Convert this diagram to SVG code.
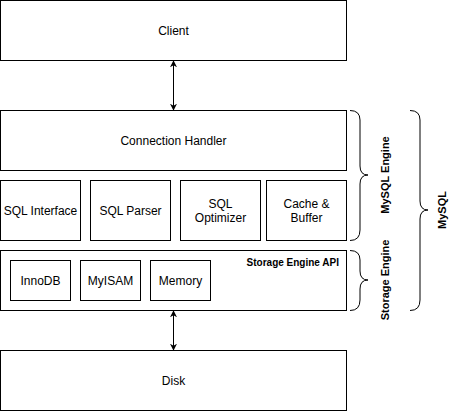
<svg xmlns="http://www.w3.org/2000/svg" width="471" height="412" viewBox="0 0 471 412">
<style>
.box{fill:#fff;stroke:#000;stroke-width:1}
.t{font-family:"Liberation Sans",Arial,sans-serif;font-size:12px;fill:#000;text-anchor:middle}
.b{font-family:"Liberation Sans",Arial,sans-serif;font-weight:bold;fill:#000;text-anchor:middle}
.br{fill:none;stroke:#000;stroke-width:1}
.ln{stroke:#000;stroke-width:1;fill:none}
</style>
<defs>
<marker id="ah" viewBox="0 0 10 10" refX="9" refY="5" markerWidth="7" markerHeight="7" orient="auto-start-reverse" markerUnits="userSpaceOnUse">
<path d="M0,0 L10,5 L0,10 L3,5 Z" fill="#000"/>
</marker>
</defs>
<rect width="471" height="412" fill="#fff"/>
<g id="client"><rect class="box" x="0.5" y="0.5" width="346" height="60"/><text class="t" x="173.5" y="34.5">Client</text></g>
<g id="connection-handler"><rect class="box" x="0.5" y="110.5" width="346" height="60"/><text class="t" x="173.5" y="144.5">Connection Handler</text></g>
<g id="sql-interface"><rect class="box" x="0.5" y="180.5" width="80" height="60"/><text class="t" x="40.5" y="214.5">SQL Interface</text></g>
<g id="sql-parser"><rect class="box" x="90.5" y="180.5" width="80" height="60"/><text class="t" x="130.5" y="214.5">SQL Parser</text></g>
<g id="sql-optimizer"><rect class="box" x="180.5" y="180.5" width="80" height="60"/><text class="t" x="220.5" y="207.5">SQL</text><text class="t" x="220.5" y="221.5">Optimizer</text></g>
<g id="cache-buffer"><rect class="box" x="266.5" y="180.5" width="80" height="60"/><text class="t" x="306.5" y="207.5">Cache &amp;</text><text class="t" x="306.5" y="221.5">Buffer</text></g>
<g id="storage-engine-api"><rect class="box" x="0.5" y="250.5" width="346" height="60"/><text class="b" style="font-size:10px;text-anchor:end" x="339" y="265.5">Storage Engine API</text></g>
<g id="innodb"><rect class="box" x="10.5" y="260.5" width="60" height="40"/><text class="t" x="40.5" y="284.5">InnoDB</text></g>
<g id="myisam"><rect class="box" x="80.5" y="260.5" width="60" height="40"/><text class="t" x="110.5" y="284.5">MyISAM</text></g>
<g id="memory"><rect class="box" x="150.5" y="260.5" width="60" height="40"/><text class="t" x="180.5" y="284.5">Memory</text></g>
<g id="disk"><rect class="box" x="0.5" y="350.5" width="346" height="60"/><text class="t" x="173.5" y="384.5">Disk</text></g>
<g id="mysql-engine-brace"><path class="br" d="M350,110.5 Q360,110.5 360,120 L360,166 Q360,175 368,175 Q360,175 360,184 L360,230 Q360,240.5 350,240.5"/><text class="b" style="font-size:11px" transform="translate(389,175) rotate(-90)">MySQL Engine</text></g>
<g id="storage-engine-brace"><path class="br" d="M350,250.5 Q360,250.5 360,260 L360,271 Q360,280 368,280 Q360,280 360,289 L360,300 Q360,310.5 350,310.5"/><text class="b" style="font-size:11px" transform="translate(389,280) rotate(-90)">Storage Engine</text></g>
<g id="mysql-brace"><path class="br" d="M410,110.5 Q420,110.5 420,120 L420,201 Q420,210 428,210 Q420,210 420,219 L420,300 Q420,310.5 410,310.5"/><text class="b" style="font-size:11px" transform="translate(446,210) rotate(-90)">MySQL</text></g>
<g id="connectors">
<line class="ln" x1="173.5" y1="61" x2="173.5" y2="110" marker-start="url(#ah)" marker-end="url(#ah)"/>
<line class="ln" x1="173.5" y1="311" x2="173.5" y2="350" marker-start="url(#ah)" marker-end="url(#ah)"/>
</g>
</svg>
